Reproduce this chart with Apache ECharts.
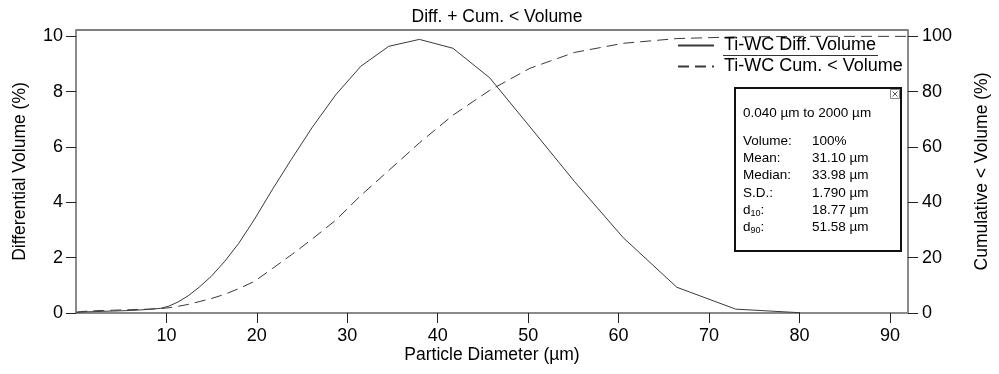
<!DOCTYPE html>
<html><head><meta charset="utf-8">
<script src="https://cdn.jsdelivr.net/npm/echarts@6/dist/echarts.min.js"></script>
<style>html,body{margin:0;padding:0;background:#fff}#c{width:999px;height:374px}</style>
</head><body><div id="c"></div>
<script>
// Particle diameter (µm) of each size bin
const diameters = [0.04, 0.5, 1.0, 2.0, 3.0, 4.0, 5.0, 6.0, 7.0, 8.0, 9.371, 10.29, 11.29, 12.40, 13.61, 14.94, 16.40, 18.00, 19.76, 21.69, 23.81, 26.14, 28.70, 31.50, 34.58, 37.97, 41.68, 45.75, 50.22, 55.13, 60.52, 66.44, 72.94, 80.07, 87.90, 96.49];
// Differential volume (%)
const diffVolume = [0.02, 0.03, 0.04, 0.05, 0.06, 0.07, 0.08, 0.09, 0.11, 0.13, 0.17, 0.25, 0.40, 0.62, 0.93, 1.32, 1.85, 2.52, 3.40, 4.45, 5.55, 6.72, 7.88, 8.92, 9.64, 9.89, 9.57, 8.50, 6.72, 4.75, 2.72, 0.93, 0.14, 0.01, null, null];
// Cumulative < volume (%)
const cumVolume = [0.3, 0.5, 0.6, 0.8, 0.9, 1.0, 1.1, 1.2, 1.3, 1.4, 1.6, 1.9, 2.4, 3.1, 4.1, 5.2, 6.7, 8.8, 11.5, 16.0, 21.0, 26.8, 33.5, 42.5, 51.5, 61.5, 71.5, 80.5, 88.5, 94.2, 97.5, 99.2, 99.8, 100, 100, 100];

const xTicks = [10, 20, 30, 40, 50, 60, 70, 80, 90];
const leftTicks = [0, 2, 4, 6, 8, 10];
const rightTicks = [0, 20, 40, 60, 80, 100];

const seriesNames = ['Ti-WC Diff. Volume', 'Ti-WC Cum. < Volume'];
const rangeText = '0.040 µm to 2000 µm';
const statLabels = ['Volume:', 'Mean:', 'Median:', 'S.D.:', '{b|d}{s|10}{b|:}', '{b|d}{s|90}{b|:}'];
const statValues = ['100%', '31.10 µm', '33.98 µm', '1.790 µm', '18.77 µm', '51.58 µm'];

const FONT = "'Liberation Sans', Arial, sans-serif";
const axisLineStyle = { color: '#8a8a8a', width: 2 };
const tickStyle = { color: '#222', width: 1 };
const labelStyle = { color: '#000', fontSize: 18, fontFamily: FONT };
const nameStyle = { color: '#000', fontSize: 17.5, fontFamily: FONT };

const diffData = diameters.map((d, i) => [d, diffVolume[i]]);
const cumData = diameters.map((d, i) => [d, cumVolume[i]]);

const boxX = 735, boxY = 88, boxW = 166, boxH = 163;
const statEls = [];
statLabels.forEach((t, i) => {
  const y = 141 + i * 17.3;
  statEls.push({ type: 'text', x: 743, y: y, z: 110, style: { text: t, fill: '#000', font: '13.5px ' + FONT, verticalAlign: 'middle',
    rich: { b: { fontSize: 13.5, fontFamily: FONT, fill: '#000' }, s: { fontSize: 9, fontFamily: FONT, fill: '#000', verticalAlign: 'bottom', padding: [6, 0, 0, 0] } } } });
  statEls.push({ type: 'text', x: 812, y: y, z: 110, style: { text: statValues[i], fill: '#000', font: '13.5px ' + FONT, verticalAlign: 'middle' } });
});

const chart = echarts.init(document.getElementById('c'));
chart.setOption({
  animation: false,
  backgroundColor: '#fff',
  title: { text: 'Diff. + Cum. < Volume', left: 492, top: 3, textAlign: 'center',
    textStyle: { color: '#000', fontSize: 17.5, fontWeight: 'normal', fontFamily: FONT } },
  grid: { left: 76, right: 90, top: 30, bottom: 61, show: true, borderColor: '#000', borderWidth: 1, backgroundColor: 'transparent' },
  legend: {
    orient: 'vertical', left: 677, top: 35, padding: 0, itemWidth: 36, itemHeight: 14, itemGap: 0,
    itemStyle: { opacity: 0 },
    textStyle: { color: '#000', fontSize: 18, fontFamily: FONT, lineHeight: 21, padding: [0, 0, 0, 5] },
    data: seriesNames, selectedMode: false
  },
  xAxis: {
    type: 'value', min: 0, max: 92, interval: 10,
    name: 'Particle Diameter (µm)', nameLocation: 'middle', nameGap: 33, nameMoveOverlap: false, nameTextStyle: nameStyle,
    axisLine: { lineStyle: axisLineStyle },
    axisTick: { length: 10, lineStyle: tickStyle, customValues: xTicks },
    axisLabel: Object.assign({ margin: 14, customValues: xTicks }, labelStyle),
    splitLine: { show: false }
  },
  yAxis: [
    {
      type: 'value', min: 0, max: 10.23, interval: 2, position: 'left',
      name: 'Differential Volume (%)', nameLocation: 'middle', nameGap: 47, nameMoveOverlap: false, nameTextStyle: nameStyle,
      axisLine: { show: true, lineStyle: axisLineStyle },
      axisTick: { show: true, length: 10, lineStyle: tickStyle, customValues: leftTicks },
      axisLabel: Object.assign({ margin: 13, customValues: leftTicks }, labelStyle),
      splitLine: { show: false }
    },
    {
      type: 'value', min: 0, max: 102.3, interval: 20, position: 'right',
      name: 'Cumulative < Volume (%)', nameLocation: 'middle', nameGap: 65, nameMoveOverlap: false, nameTextStyle: nameStyle,
      axisLine: { show: true, lineStyle: axisLineStyle },
      axisTick: { show: true, length: 10, lineStyle: tickStyle, customValues: rightTicks },
      axisLabel: Object.assign({ margin: 14, customValues: rightTicks }, labelStyle),
      splitLine: { show: false }
    }
  ],
  series: [
    { name: seriesNames[0], type: 'line', yAxisIndex: 0, data: diffData, symbol: 'none', connectNulls: false,
      lineStyle: { color: '#3a3a3a', width: 1 }, itemStyle: { color: '#3a3a3a' }, clip: true },
    { name: seriesNames[1], type: 'line', yAxisIndex: 1, data: cumData, symbol: 'none',
      lineStyle: { color: '#3a3a3a', width: 1, type: [11, 6] }, itemStyle: { color: '#3a3a3a' }, clip: true }
  ],
  graphic: [
    { type: 'line', z: 100, shape: { x1: 723, y1: 55.5, x2: 878, y2: 55.5 }, style: { stroke: '#333', lineWidth: 1 } },
    { type: 'rect', z: 100, shape: { x: boxX, y: boxY, width: boxW, height: boxH }, style: { fill: '#fff', stroke: '#111', lineWidth: 2 } },
    { type: 'rect', z: 105, shape: { x: 890.5, y: 89.5, width: 9, height: 9 }, style: { fill: '#fff', stroke: '#888', lineWidth: 1 } },
    { type: 'line', z: 106, shape: { x1: 892.5, y1: 91.5, x2: 897.5, y2: 96.5 }, style: { stroke: '#555', lineWidth: 1 } },
    { type: 'line', z: 106, shape: { x1: 897.5, y1: 91.5, x2: 892.5, y2: 96.5 }, style: { stroke: '#555', lineWidth: 1 } },
    { type: 'text', x: 743, y: 113, z: 110, style: { text: rangeText, fill: '#000', font: '13.5px ' + FONT, verticalAlign: 'middle' } }
  ].concat(statEls)
});
</script>
</body></html>
